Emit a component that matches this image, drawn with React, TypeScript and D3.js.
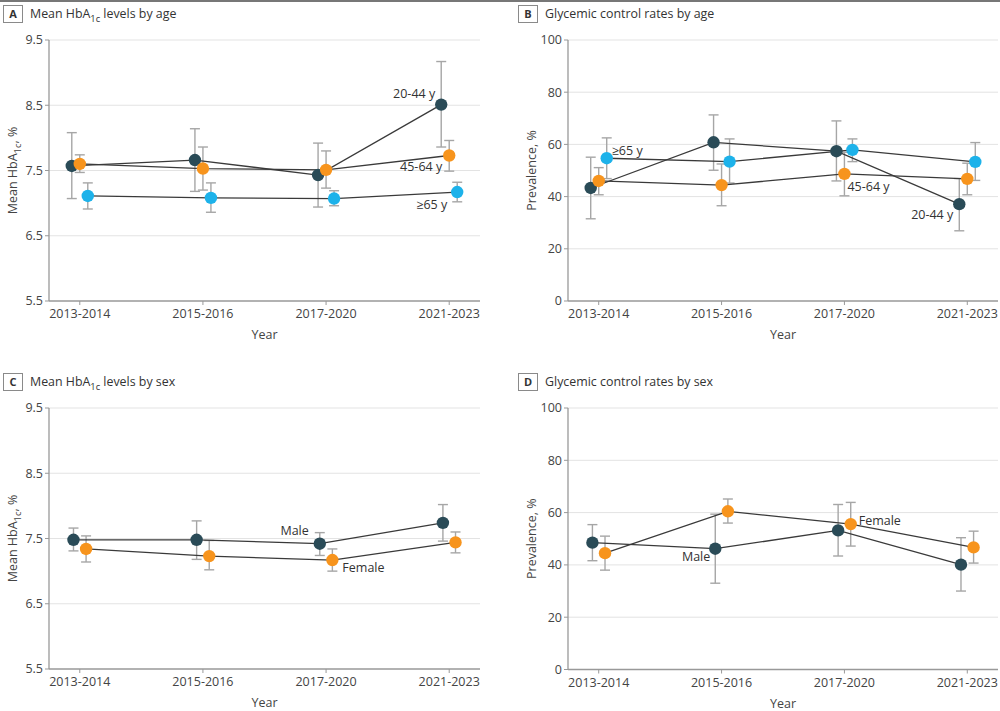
import React from "react";
import * as d3 from "d3";

// survey cycles
const years = ["2013-2014", "2015-2016", "2017-2020", "2021-2023"];

// [mean, lower CI, upper CI] per cycle
const a1cAge2044 = [[7.57, 7.07, 8.08], [7.66, 7.18, 8.14], [7.43, 6.94, 7.92], [8.51, 7.86, 9.17]];
const a1cAge4564 = [[7.6, 7.47, 7.74], [7.53, 7.2, 7.86], [7.51, 7.23, 7.8], [7.73, 7.49, 7.96]];
const a1cAge65 = [[7.11, 6.91, 7.31], [7.08, 6.86, 7.31], [7.07, 6.96, 7.19], [7.17, 7.02, 7.32]];

const ctrlAge2044 = [[43.3, 31.5, 55.1], [60.8, 50.1, 71.3], [57.4, 46.0, 69.0], [37.1, 26.9, 46.9]];
const ctrlAge4564 = [[46.0, 40.7, 51.1], [44.4, 36.5, 52.5], [48.7, 40.3, 57.0], [46.8, 40.7, 52.8]];
const ctrlAge65 = [[54.7, 46.9, 62.5], [53.4, 45.2, 62.1], [57.9, 53.4, 62.1], [53.3, 46.2, 60.7]];

const a1cMale = [[7.48, 7.31, 7.66], [7.48, 7.18, 7.77], [7.42, 7.24, 7.59], [7.74, 7.46, 8.02]];
const a1cFemale = [[7.34, 7.14, 7.54], [7.23, 7.02, 7.47], [7.17, 7.0, 7.34], [7.44, 7.28, 7.6]];

const ctrlMale = [[48.5, 41.6, 55.4], [46.2, 33.0, 59.4], [53.2, 43.4, 63.1], [40.1, 30.0, 50.4]];
const ctrlFemale = [[44.5, 38.0, 51.0], [60.5, 56.0, 65.2], [55.6, 47.2, 63.9], [46.7, 40.7, 52.9]];

const a1cTicks = [5.5, 6.5, 7.5, 8.5, 9.5];
const ctrlTicks = [0, 20, 40, 60, 80, 100];

const DARK = "#2a4b57";
const ORANGE = "#f7941d";
const BLUE = "#1db2ea";
const FONT = "'Open Sans', 'Noto Sans', sans-serif";

type Series = { data: number[][]; color: string; dodge: number };
type Note = { text: string; s: number; i: number; dx: number; dy: number; anchor: string };

interface PanelProps {
  letter: string;
  title: React.ReactNode;
  yLabel: React.ReactNode;
  left: number;
  right: number;
  top: number;
  bottom: number;
  domain: [number, number];
  ticks: number[];
  fmt: (v: number) => string;
  series: Series[];
  notes: Note[];
}

function Panel(p: PanelProps) {
  const x = d3.scalePoint<string>().domain(years).range([p.left, p.right]).padding(0.25);
  const y = d3.scaleLinear().domain(p.domain).range([p.bottom, p.top]);
  const line = d3
    .line<number[]>()
    .x((d) => d[0])
    .y((d) => d[1]);
  const boxX = p.left < 300 ? 3 : 518;
  const titleY = p.top - 22;
  const midY = (p.top + p.bottom) / 2;
  const yLabelX = p.left - 32;

  return (
    <g fontFamily={FONT}>
      <rect x={boxX + 0.5} y={titleY - 12.5} width={19} height={17} fill="none" stroke="#8a8a8a" />
      <text x={boxX + 10} y={titleY} textAnchor="middle" fontSize={11} fontWeight="bold" fill="#333">
        {p.letter}
      </text>
      <text x={boxX + 27} y={titleY} fontSize={12.4} fill="#333">
        {p.title}
      </text>

      {p.ticks.map((t) => (
        <g key={t}>
          {t !== p.domain[0] && (
            <line x1={p.left} x2={p.right} y1={y(t)} y2={y(t)} stroke="#e3e3e3" strokeWidth={1} />
          )}
          <line x1={p.left - 4} x2={p.left} y1={y(t)} y2={y(t)} stroke="#999" />
          <text x={p.left - 6} y={y(t)} dy="0.35em" textAnchor="end" fontSize={12.5} fill="#444">
            {p.fmt(t)}
          </text>
        </g>
      ))}
      <line x1={p.left} x2={p.left} y1={p.top} y2={p.bottom} stroke="#999" strokeWidth={1.3} />
      <line x1={p.left} x2={p.right} y1={p.bottom} y2={p.bottom} stroke="#999" strokeWidth={1.3} />
      {years.map((yr) => (
        <g key={yr}>
          <line x1={x(yr)} x2={x(yr)} y1={p.bottom} y2={p.bottom + 4} stroke="#999" />
          <text x={x(yr)} y={p.bottom + 17} textAnchor="middle" fontSize={12.5} fill="#444">
            {yr}
          </text>
        </g>
      ))}
      <text x={(p.left + p.right) / 2} y={p.bottom + 38} textAnchor="middle" fontSize={12.5} fill="#444">
        Year
      </text>
      <text
        transform={`translate(${yLabelX},${midY}) rotate(-90)`}
        textAnchor="middle"
        fontSize={12.5}
        fill="#444"
      >
        {p.yLabel}
      </text>

      {p.series.map((s, si) =>
        s.data.map((d, i) => {
          const cx = (x(years[i]) as number) + s.dodge;
          return (
            <g key={`e${si}-${i}`} stroke="#a6a6a6" strokeWidth={1.4}>
              <line x1={cx} x2={cx} y1={y(d[1])} y2={y(d[2])} />
              <line x1={cx - 5} x2={cx + 5} y1={y(d[1])} y2={y(d[1])} />
              <line x1={cx - 5} x2={cx + 5} y1={y(d[2])} y2={y(d[2])} />
            </g>
          );
        })
      )}
      {p.series.map((s, si) => (
        <path
          key={`l${si}`}
          d={line(s.data.map((d, i) => [(x(years[i]) as number) + s.dodge, y(d[0])])) || ""}
          fill="none"
          stroke="#3a3a3a"
          strokeWidth={1.3}
        />
      ))}
      {p.series.map((s, si) =>
        s.data.map((d, i) => (
          <circle key={`c${si}-${i}`} cx={(x(years[i]) as number) + s.dodge} cy={y(d[0])} r={6.2} fill={s.color} />
        ))
      )}
      {p.notes.map((n) => {
        const s = p.series[n.s];
        return (
          <text
            key={n.text}
            x={(x(years[n.i]) as number) + s.dodge + n.dx}
            y={y(s.data[n.i][0]) + n.dy}
            textAnchor={n.anchor}
            fontSize={12.5}
            fill="#333"
          >
            {n.text}
          </text>
        );
      })}
    </g>
  );
}

const hba = (
  <>
    Mean HbA
    <tspan fontSize="0.75em" dy="4">1c</tspan>
  </>
);

export default function App() {
  const ageSeries = (a: number[][], b: number[][], c: number[][]): Series[] => [
    { data: a, color: DARK, dodge: -8 },
    { data: b, color: ORANGE, dodge: 0 },
    { data: c, color: BLUE, dodge: 8 },
  ];
  const sexSeries = (m: number[][], f: number[][]): Series[] => [
    { data: m, color: DARK, dodge: -6.3 },
    { data: f, color: ORANGE, dodge: 6.3 },
  ];
  const f1 = (v: number) => v.toFixed(1);
  const f0 = (v: number) => String(v);

  return (
    <div style={{ position: "absolute", left: 0, top: 0 }}>
      <svg width={1000} height={711} style={{ display: "block", background: "#fff" }}>
        <line x1={0} x2={1000} y1={1} y2={1} stroke="#777" strokeWidth={2} />
        <Panel
          letter="A"
          title={<>{hba}<tspan dy="-4"> levels by age</tspan></>}
          yLabel={<>{hba}<tspan dy="-4">, %</tspan></>}
          left={49}
          right={480}
          top={40}
          bottom={301}
          domain={[5.5, 9.5]}
          ticks={a1cTicks}
          fmt={f1}
          series={ageSeries(a1cAge2044, a1cAge4564, a1cAge65)}
          notes={[
            { text: "20-44 y", s: 0, i: 3, dx: -6, dy: -7, anchor: "end" },
            { text: "45-64 y", s: 1, i: 3, dx: -7, dy: 16, anchor: "end" },
            { text: "≥65 y", s: 2, i: 3, dx: -10, dy: 17, anchor: "end" },
          ]}
        />
        <Panel
          letter="B"
          title="Glycemic control rates by age"
          yLabel="Prevalence, %"
          left={568}
          right={998}
          top={40}
          bottom={301}
          domain={[0, 100]}
          ticks={ctrlTicks}
          fmt={f0}
          series={ageSeries(ctrlAge2044, ctrlAge4564, ctrlAge65)}
          notes={[
            { text: "≥65 y", s: 2, i: 0, dx: 5, dy: -3, anchor: "start" },
            { text: "45-64 y", s: 1, i: 2, dx: 3, dy: 17, anchor: "start" },
            { text: "20-44 y", s: 0, i: 3, dx: -6, dy: 15, anchor: "end" },
          ]}
        />
        <Panel
          letter="C"
          title={<>{hba}<tspan dy="-4"> levels by sex</tspan></>}
          yLabel={<>{hba}<tspan dy="-4">, %</tspan></>}
          left={49}
          right={480}
          top={408}
          bottom={669}
          domain={[5.5, 9.5]}
          ticks={a1cTicks}
          fmt={f1}
          series={sexSeries(a1cMale, a1cFemale)}
          notes={[
            { text: "Male", s: 0, i: 2, dx: -11, dy: -9, anchor: "end" },
            { text: "Female", s: 1, i: 2, dx: 10, dy: 12, anchor: "start" },
          ]}
        />
        <Panel
          letter="D"
          title="Glycemic control rates by sex"
          yLabel="Prevalence, %"
          left={568}
          right={998}
          top={408}
          bottom={669.5}
          domain={[0, 100]}
          ticks={ctrlTicks}
          fmt={f0}
          series={sexSeries(ctrlMale, ctrlFemale)}
          notes={[
            { text: "Female", s: 1, i: 2, dx: 8, dy: 1, anchor: "start" },
            { text: "Male", s: 0, i: 1, dx: -5, dy: 12, anchor: "end" },
          ]}
        />
      </svg>
    </div>
  );
}
